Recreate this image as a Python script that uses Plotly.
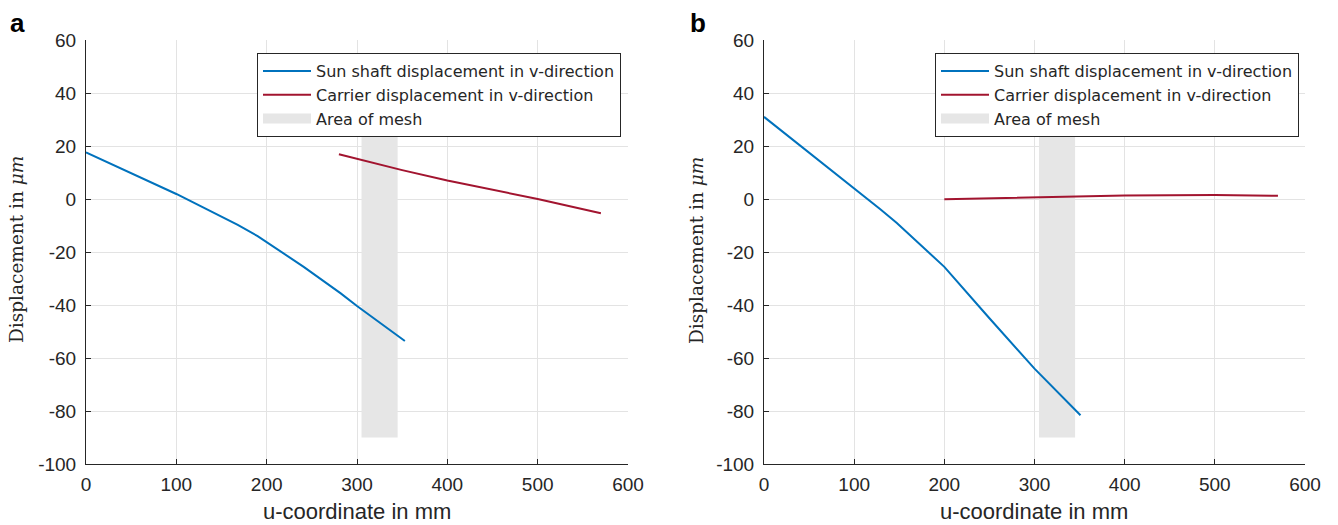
import plotly.graph_objects as go

# ---- data ----
u_sun_a = [0, 100, 134, 168, 190, 241, 282, 300, 353]
v_sun_a = [17.6, 1.9, -3.9, -9.8, -14.0, -25.6, -35.6, -40.4, -53.6]
u_car_a = [280, 350, 400, 450, 500, 570]
v_car_a = [16.9, 10.9, 7.0, 3.4, 0.0, -5.4]

u_sun_b = [0, 50, 100, 129, 147, 173, 200, 250, 300, 351]
v_sun_b = [31.0, 17.6, 4.1, -3.9, -9.0, -17.0, -25.6, -45.0, -64.0, -81.6]
u_car_b = [200, 250, 300, 350, 400, 450, 500, 570]
v_car_b = [-0.1, 0.3, 0.7, 1.0, 1.3, 1.45, 1.5, 1.2]

mesh_u = [305, 345]
mesh_v = [-90, 28]

x_ticks = [0, 100, 200, 300, 400, 500, 600]
x_ticktext = ["0", "100", "200", "300", "400", "500", "600"]
y_ticks = [-100, -80, -60, -40, -20, 0, 20, 40, 60]
y_ticktext = ["-100", "-80", "-60", "-40", "-20", "0", "20", "40", "60"]

names = ["Sun shaft displacement in v-direction",
         "Carrier displacement in v-direction",
         "Area of mesh"]
panel_labels = ["a", "b"]
x_title = "u-coordinate in mm"
y_title = "Displacement in <i>μm</i>"

BLUE = "#0072BD"
RED = "#A2142F"
GREY = "#E6E6E6"
SANS = "Liberation Sans, Arial, sans-serif"
SERIF = "DejaVu Serif, serif"
INK = "#262626"

fig = go.Figure()

panels = [
    (u_sun_a, v_sun_a, u_car_a, v_car_a, "x", "y", "legend"),
    (u_sun_b, v_sun_b, u_car_b, v_car_b, "x2", "y2", "legend2"),
]

for us, vs, uc, vc, xa, ya, lg in panels:
    # mesh area (filled rectangle)
    fig.add_trace(go.Scatter(
        x=[mesh_u[0], mesh_u[1], mesh_u[1], mesh_u[0], mesh_u[0]],
        y=[mesh_v[0], mesh_v[0], mesh_v[1], mesh_v[1], mesh_v[0]],
        fill="toself", fillcolor=GREY, mode="none", showlegend=False,
        xaxis=xa, yaxis=ya, hoverinfo="skip"))
    fig.add_trace(go.Scatter(x=us, y=vs, mode="lines", name=names[0],
                             line=dict(color=BLUE, width=2),
                             xaxis=xa, yaxis=ya, legend=lg))
    fig.add_trace(go.Scatter(x=uc, y=vc, mode="lines", name=names[1],
                             line=dict(color=RED, width=2),
                             xaxis=xa, yaxis=ya, legend=lg))
    # legend entry for mesh area
    fig.add_trace(go.Scatter(x=[None], y=[None], mode="lines", name=names[2],
                             line=dict(color=GREY, width=10),
                             xaxis=xa, yaxis=ya, legend=lg))

# body margin is removed by post_script, so page px == figure px
W, H = 1338, 525


def px(p):
    return p / W


def py(p):
    return 1 - p / H


y_dom = [py(464), py(40)]
x_dom1 = [px(86), px(628)]
x_dom2 = [px(764), px(1305)]

axis_common = dict(
    range=[0, 600], tickvals=x_ticks, ticktext=x_ticktext,
    showgrid=True, gridcolor="#E3E3E3", gridwidth=1,
    showline=True, linecolor=INK, linewidth=1,
    ticks="inside", ticklen=5, tickcolor=INK, ticklabelstandoff=3,
    tickfont=dict(family=SANS, size=19, color=INK),
    zeroline=False, automargin=False,
)
yaxis_common = dict(
    range=[-100, 60], tickvals=y_ticks, ticktext=y_ticktext,
    showgrid=True, gridcolor="#E3E3E3", gridwidth=1,
    showline=True, linecolor=INK, linewidth=1,
    ticks="inside", ticklen=5, tickcolor=INK, ticklabelstandoff=5,
    tickfont=dict(family=SANS, size=19, color=INK),
    zeroline=False, automargin=False,
)

legend_common = dict(
    bgcolor="white", bordercolor=INK, borderwidth=1,
    font=dict(family="DejaVu Sans, sans-serif", size=16, color=INK),
    xanchor="left", yanchor="top", itemwidth=48,
    tracegroupgap=0,
)

annotations = []
for i, (xc, lx) in enumerate([(357, 8), (1034, 688)]):
    annotations.append(dict(text="<b>%s</b>" % panel_labels[i], x=px(lx), y=py(6),
                            xref="paper", yref="paper", xanchor="left", yanchor="top",
                            showarrow=False, font=dict(family=SANS, size=26, color="black")))
    annotations.append(dict(text=x_title, x=px(xc), y=py(511), xref="paper", yref="paper",
                            xanchor="center", yanchor="middle", showarrow=False,
                            font=dict(family=SANS, size=22, color=INK)))
    annotations.append(dict(text=y_title, x=px(16 + (lx - 8)), y=py(250), xref="paper", yref="paper",
                            xanchor="center", yanchor="middle", textangle=-90, showarrow=False,
                            font=dict(family=SERIF, size=18.5, color=INK)))

fig.update_layout(
    width=W, height=H,
    margin=dict(l=0, r=0, t=0, b=0),
    paper_bgcolor="white", plot_bgcolor="white",
    xaxis=dict(domain=x_dom1, anchor="y", **axis_common),
    yaxis=dict(domain=y_dom, anchor="x", **yaxis_common),
    xaxis2=dict(domain=x_dom2, anchor="y2", **axis_common),
    yaxis2=dict(domain=y_dom, anchor="x2", **yaxis_common),
    legend=dict(x=px(257), y=py(53), **legend_common),
    legend2=dict(x=px(935), y=py(53), **legend_common),
    annotations=annotations,
)

fig.write_html("out.html", config={"displayModeBar": False},
               post_script="document.body.style.margin='0px';")
